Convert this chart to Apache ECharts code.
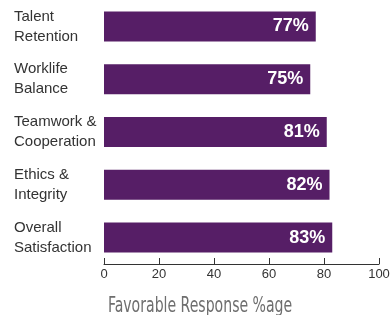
<!DOCTYPE html>
<html>
<head>
<meta charset="utf-8">
<script src="https://cdn.jsdelivr.net/npm/echarts@6/dist/echarts.min.js"></script>
<style>
  html, body { margin: 0; padding: 0; background: #fff; }
  #main { width: 390px; height: 315px; }
</style>
</head>
<body>
<div id="main"></div>
<script>
// categories bottom-to-top (echarts draws category axis from bottom)
const categories = ['Overall\nSatisfaction', 'Ethics &\nIntegrity', 'Teamwork &\nCooperation', 'Worklife\nBalance', 'Talent\nRetention']
const favorable = [83, 82, 81, 75, 77]
const xTicks = [0, 20, 40, 60, 80, 100]
const axisTitle = 'Favorable Response %age'

const chart = echarts.init(document.getElementById('main'))

const option = {
  animation: false,
  // narrow axis title, squeezed horizontally to match the condensed face
  graphic: [{
    type: 'text',
    x: 108,
    y: 307,
    scaleX: 0.745,
    style: {
      text: axisTitle,
      fontFamily: 'DejaVu Sans Condensed',
      fontSize: 21,
      fill: '#6e6e6e',
      verticalAlign: 'middle'
    }
  }],
  grid: { left: 104, right: 11, top: 0, bottom: 51, outerBoundsMode: 'none' },
  xAxis: {
    type: 'value',
    min: xTicks[0],
    max: xTicks[xTicks.length - 1],
    interval: 20,
    splitLine: { show: false },
    axisLine: { show: true, lineStyle: { color: '#333', width: 1 } },
    axisTick: { show: true, inside: true, length: 6, lineStyle: { color: '#333' } },
    axisLabel: {
      color: '#333',
      fontSize: 13,
      fontFamily: 'Liberation Sans',
      margin: 4
    }
  },
  yAxis: {
    type: 'category',
    data: categories,
    axisLine: { show: false },
    axisTick: { show: false },
    axisLabel: {
      align: 'left',
      margin: 90,
      color: '#333',
      fontSize: 15,
      lineHeight: 20,
      fontFamily: 'Liberation Sans'
    }
  },
  series: [{
    type: 'bar',
    data: favorable,
    barWidth: 30,
    itemStyle: { color: '#561e66' },
    label: {
      show: true,
      position: 'insideRight',
      distance: 7,
      formatter: '{c}%',
      color: '#fff',
      fontWeight: 'bold',
      fontSize: 18,
      fontFamily: 'Liberation Sans'
    }
  }]
}

option && chart.setOption(option)
</script>
</body>
</html>
